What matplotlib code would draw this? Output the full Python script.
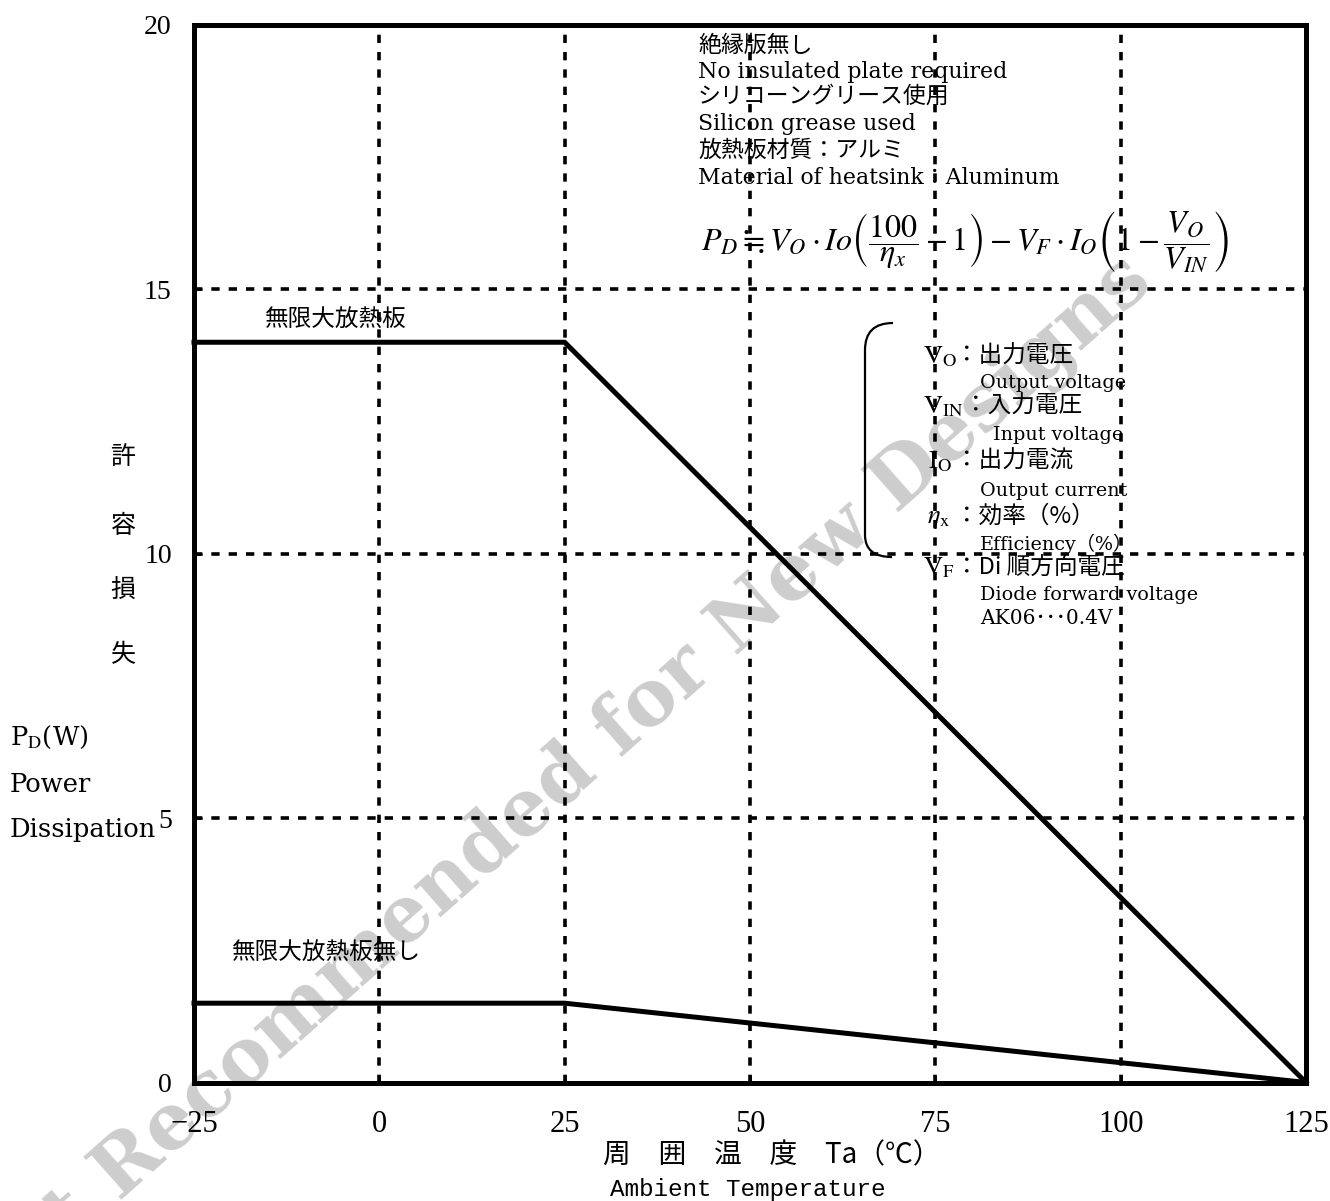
import matplotlib
matplotlib.use('Agg')
import matplotlib.pyplot as plt
from matplotlib.path import Path
from matplotlib.patches import PathPatch

plt.rcParams['font.family'] = ['DejaVu Serif', 'Noto Sans CJK JP']
plt.rcParams['mathtext.fontset'] = 'stix'

# ---- data ----
ta_infinite = [-25, 25, 125]      # Ambient temperature (°C)
pd_infinite = [14, 14, 0]         # with infinite heatsink (W)
ta_none = [-25, 25, 125]
pd_none = [1.5, 1.5, 0]           # without heatsink (W)
x_ticks = [-25, 0, 25, 50, 75, 100, 125]
y_ticks = [0, 5, 10, 15, 20]

W, H = 1330, 1201
L, R, T, B = 194, 1306, 25, 1082.5

fig = plt.figure(figsize=(W / 100, H / 100), dpi=100)
ax = fig.add_axes([L / W, 1 - B / H, (R - L) / W, (B - T) / H])
ax.set_facecolor('none')
ax.set_xlim(-25, 125)
ax.set_ylim(0, 20)
ax.set_xticks(x_ticks)
ax.set_yticks(y_ticks)
ax.grid(True, color='black', linewidth=2.6, linestyle=(0, (2.3, 2.5)))
ax.set_axisbelow(True)

ax.plot(ta_infinite, pd_infinite, color='black', lw=3.6, clip_on=False, zorder=4)
ax.plot(ta_none, pd_none, color='black', lw=3.6, clip_on=False, zorder=4)

for sp in ax.spines.values():
    sp.set_linewidth(3.6)
    sp.set_zorder(5)

ax.tick_params(direction='in', length=6, width=2, color='black')
ax.tick_params(axis='x', labelsize=22, pad=20)
ax.tick_params(axis='y', labelsize=20, pad=16)
for lab in ax.get_xticklabels() + ax.get_yticklabels():
    lab.set_fontfamily('Liberation Serif')


def fp(px, py):
    return px / W, 1 - py / H


def dp(px, py):
    return (-25 + (px - L) / (R - L) * 150, (B - py) / (B - T) * 20)


def ftext(px, py, s, **kw):
    x, y = fp(px, py)
    kw.setdefault('va', 'baseline')
    kw.setdefault('ha', 'left')
    fig.text(x, y, s, **kw)


CJK = 'Noto Sans CJK JP'
SER = ['DejaVu Serif', 'Noto Sans CJK JP']

# watermark
wx, wy = fp(1155, 286)
fig.text(wx, wy, 'Not Recommended for New Designs', rotation=41.5, ha='right',
         va='baseline', rotation_mode='anchor', fontsize=56, fontweight='bold',
         family='DejaVu Serif', color='#cdcdcd', zorder=-1)

# top note block
ftext(698, 52, '絶縁版無し', family=CJK, fontsize=16.5)
ftext(698, 78, 'No insulated plate required', family=SER, fontsize=15.8)
ftext(698, 103, 'シリコーングリース使用', family=CJK, fontsize=16.5)
ftext(698, 130, 'Silicon grease used', family=SER, fontsize=15.8)
ftext(698, 157, '放熱板材質：アルミ', family=CJK, fontsize=16.5)
ftext(698, 184, 'Material of heatsink：Aluminum', family=SER, fontsize=15.8)

ftext(701, 242,
      r'$P_D \fallingdotseq V_O\cdot Io\left(\dfrac{100}{\eta_x}-1\right)'
      r'-V_F\cdot I_O\left(1-\dfrac{V_O}{V_{IN}}\right)$',
      fontsize=23, va='center')

# legend block: symbol part and Japanese part
sym_rows = [(923, 363, r'$\mathrm{V}_{\mathrm{O}}$', 955, '：出力電圧'),
            (923, 413, r'$\mathrm{V}_{\mathrm{IN}}$', 964, '：入力電圧'),
            (928, 468, r'$\mathrm{I}_{\mathrm{O}}$', 955, '：出力電流'),
            (927, 523, r'$\eta_{\mathrm{x}}$', 955, '：効率（%）'),
            (923, 574, r'$\mathrm{V}_{\mathrm{F}}$', 955, '：Di 順方向電圧')]
for sx, sy, sym, jx, jp in sym_rows:
    ftext(sx, sy, sym, fontsize=19)
    ftext(jx, sy, jp, family=CJK, fontsize=17)

ftext(980, 388, 'Output voltage', family=SER, fontsize=13.8)
ftext(993, 440, 'Input voltage', family=SER, fontsize=13.8)
ftext(980, 496, 'Output current', family=SER, fontsize=13.8)
ftext(980, 550, 'Efficiency（%）', family=SER, fontsize=13.8)
ftext(980, 600, 'Diode forward voltage', family=SER, fontsize=13.8)
ftext(980, 624, 'AK06･･･0.4V', family=SER, fontsize=14.5)

# bracket
p0 = dp(893, 323); c1 = dp(865, 323); p1 = dp(865, 350)
p2 = dp(865, 535); c2 = dp(865, 557); p3 = dp(892, 557)
path = Path([p0, c1, p1, p2, c2, p3],
            [Path.MOVETO, Path.CURVE3, Path.CURVE3, Path.LINETO, Path.CURVE3, Path.CURVE3])
ax.add_patch(PathPatch(path, facecolor='none', edgecolor='black', lw=1.6, zorder=4))

# curve labels
ftext(265, 327, '無限大放熱板', family=CJK, fontsize=17)
ftext(232, 960, '無限大放熱板無し', family=CJK, fontsize=17)

# y-axis label
for ch, py in zip(['許', '容', '損', '失'], [457, 526, 590, 655]):
    ftext(123, py, ch, family=CJK, fontsize=18, ha='center', va='center')
ftext(10, 745, r'P$_{\mathrm{D}}$(W)', family='DejaVu Serif', fontsize=18.5)
ftext(10, 792, 'Power', family='DejaVu Serif', fontsize=18.5)
ftext(10, 837, 'Dissipation', family='DejaVu Serif', fontsize=18.5)

# x-axis label
ftext(603, 1155, '周　囲　温　度　Ta（℃）', family=CJK, fontsize=20, va='center')
ftext(610, 1196, 'Ambient Temperature', family='Liberation Mono', fontsize=17.5)

fig.savefig('out.png', dpi=100)
